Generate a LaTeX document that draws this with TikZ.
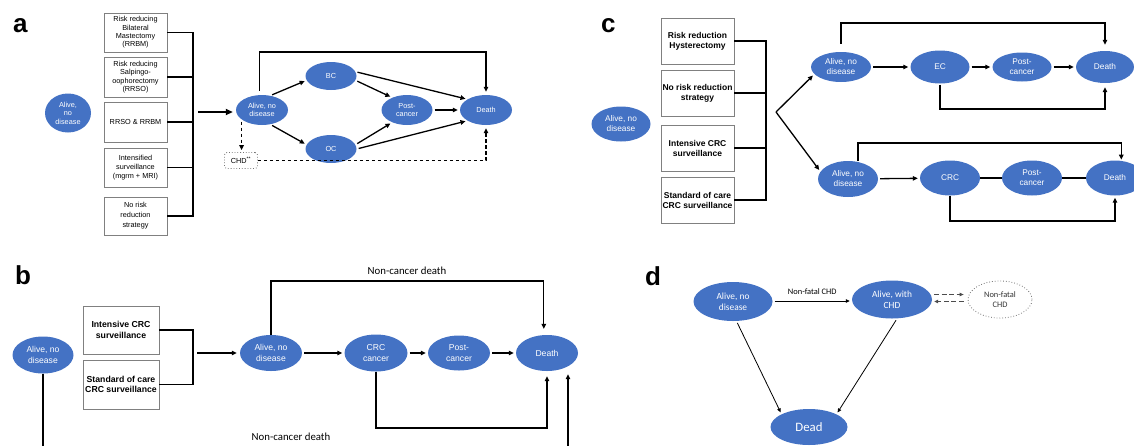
\documentclass[tikz,border=0pt]{standalone}
\usepackage{fontspec}
\setmainfont{Liberation Sans}
\newfontfamily\calfont{Carlito}
\usetikzlibrary{arrows.meta,shapes.geometric}

\definecolor{stateblue}{HTML}{4472C4}
\newcommand\fsa{\fontsize{7.3}{8.4}\selectfont}
\newcommand\fsb{\fontsize{8.6}{10.5}\selectfont}
\newcommand\fsbb{\fontsize{8.7}{10.3}\selectfont\bfseries}
\newcommand\fsc{\fontsize{8.3}{10}\selectfont}
\newcommand\fscb{\fontsize{8.5}{10}\selectfont\bfseries}
\newcommand\fsd{\calfont\fontsize{9.4}{11.3}\selectfont}
\newcommand\fsdn{\calfont\fontsize{8.4}{10}\selectfont}
\newcommand\fsnc{\calfont\fontsize{10.8}{12}\selectfont}
\newcommand\fsdead{\calfont\fontsize{12.8}{14}\selectfont}

\begin{document}
\begin{tikzpicture}[x=1pt,y=-1pt,
  state/.style={ellipse,fill=stateblue,text=white,inner sep=0pt,align=center},
  optbox/.style={draw=black!50,line width=0.7pt,inner sep=0pt,align=center},
  link/.style={line width=1.3pt},
  arr/.style={link,-{Triangle[length=5pt,width=4.5pt]},shorten <=2pt,shorten >=2pt},
  darr/.style={arr,dash pattern=on 3.5pt off 2.5pt},
  tarr/.style={line width=0.8pt,-{Triangle[length=4pt,width=3.5pt]},shorten <=2pt,shorten >=2pt},
  panel/.style={anchor=base west,inner sep=0pt,font=\fontsize{26}{26}\selectfont\bfseries}]
\useasboundingbox (0,0) rectangle (1134,445);

% 面板 a：乳腺/卵巢
\node[panel] (pa) at (13,32) {a};
\node[state,minimum width=46pt,minimum height=39pt,font=\fsa] (a0) at (68,113) {Alive,\\no\\disease};
\node[optbox,minimum width=63pt,minimum height=39pt,font=\fsa] (ab1) at (135.5,32.5) {Risk reducing\\Bilateral\\Mastectomy\\(RRBM)};
\node[optbox,minimum width=63pt,minimum height=40pt,font=\fsa] (ab2) at (135.5,77) {Risk reducing\\Salpingo-\\oophorectomy\\(RRSO)};
\node[optbox,minimum width=63pt,minimum height=40pt,font=\fsa] (ab3) at (135.5,122) {RRSO \& RRBM};
\node[optbox,minimum width=63pt,minimum height=39pt,font=\fontsize{7.3}{8.7}\selectfont] (ab4) at (135.5,167.5) {Intensified\\surveillance\\(mgrm + MRI)};
\node[optbox,minimum width=63pt,minimum height=38pt,font=\fontsize{7.3}{10}\selectfont] (ab5) at (135.5,216) {No risk\\reduction\\strategy};
\coordinate (aj) at (193,0);
\draw[link] (ab1.east) -| (aj |- ab5.east) -- (ab5.east);
\draw[link] (ab2.east) -- (ab2.east -| aj);
\draw[link] (ab3.east) -- (ab3.east -| aj);
\draw[link] (ab4.east) -- (ab4.east -| aj);

\node[state,minimum width=52pt,minimum height=30pt,font=\fsa] (a1) at (262,110) {Alive, no\\disease};
\node[state,minimum width=51pt,minimum height=28pt,font=\fsa] (aBC) at (331,76) {BC};
\node[state,minimum width=51pt,minimum height=28pt,font=\fsa] (aOC) at (331,149) {OC};
\node[state,minimum width=51pt,minimum height=30pt,font=\fsa] (aPost) at (407,110) {Post-\\cancer};
\node[state,minimum width=52pt,minimum height=30pt,font=\fsa] (aD) at (486,110) {Death};
\node[draw=black!55,line width=0.8pt,dotted,rounded corners=2.5pt,minimum width=33pt,minimum height=16pt,inner sep=0pt,font=\fsa] (aCHD) at (241,160.5) {CHD\textsuperscript{**}};

\coordinate (aIn) at (198,112);
\draw[link,line width=2pt,-{Triangle[length=7pt,width=6pt]},shorten >=3pt] (aIn) -- (aIn -| a1.west);
\draw[arr] (a1.60) -- (aBC.190);
\draw[arr] (a1.-60) -- (aOC.170);
\draw[arr] (aBC.-10) -- (aPost.140);
\draw[arr] (aBC.10) -- (aD.150);
\draw[arr] (aOC.10) -- (aPost.220);
\draw[arr] (aOC.east) -- (aD.210);
\draw[arr] (aPost) -- (aD);
\coordinate (aTop) at (0,52);
\draw[arr,shorten <=4pt,shorten >=3pt] (a1.100) -- (a1.100 |- aTop) -| (aD.north);
% CHD 虚线
\draw[darr] (a1.205) -- (a1.205 |- aCHD.north);
\draw[darr,shorten <=0pt,shorten >=3pt] (aCHD.east) -| (aD.south);

% 面板 c：子宫内膜癌 / 结直肠癌
\node[panel] (pc) at (601,32) {c};
\node[state,minimum width=59pt,minimum height=35pt,font=\fsc] (c0) at (621,124) {Alive, no\\disease};
\node[optbox,minimum width=73pt,minimum height=46pt,font=\fscb] (cb1) at (697.5,41) {Risk reduction\\Hysterectomy};
\node[optbox,minimum width=73pt,minimum height=46pt,font=\fscb] (cb2) at (697.5,93) {No risk reduction\\strategy};
\node[optbox,minimum width=73pt,minimum height=46pt,font=\fscb] (cb3) at (697.5,148) {Intensive CRC\\surveillance};
\node[optbox,minimum width=73pt,minimum height=46pt,font=\fscb] (cb4) at (697.5,200) {Standard of care\\CRC surveillance};
\coordinate (cj) at (766,0);
\draw[link] (cb1.east) -| (cj |- cb4.east) -- (cb4.east);
\draw[link] (cb2.east) -- (cb2.east -| cj);
\draw[link] (cb3.east) -- (cb3.east -| cj);

\node[state,minimum width=60pt,minimum height=30pt,font=\fsc] (c1) at (841,67) {Alive, no\\disease};
\node[state,minimum width=59pt,minimum height=33pt,font=\fsc] (cEC) at (940,67) {EC};
\node[state,minimum width=59pt,minimum height=29pt,font=\fsc] (cP1) at (1022,67) {Post-\\cancer};
\node[state,minimum width=58pt,minimum height=32pt,font=\fsc] (cD1) at (1105,67) {Death};
\node[state,minimum width=60pt,minimum height=36pt,font=\fsc] (c2) at (848,179) {Alive, no\\disease};
\node[state,minimum width=60pt,minimum height=35pt,font=\fsc] (cCRC) at (950,178) {CRC};
\node[state,minimum width=60pt,minimum height=35pt,font=\fsc] (cP2) at (1032,178) {Post-\\cancer};
\node[state,minimum width=58pt,minimum height=35pt,font=\fsc] (cD2) at (1115,178) {Death};

\coordinate (cAp) at (776,112);
\draw[arr,shorten <=0pt] (cAp) -- (c1.195);
\draw[arr,shorten <=0pt] (cAp) -- (c2.165);
\draw[arr] (c1) -- (cEC);
\draw[arr] (cEC) -- (cP1);
\draw[arr] (cP1) -- (cD1);
\coordinate (cTop1) at (0,23);
\draw[arr,shorten <=8pt,shorten >=6pt] (c1.north) -- (c1.north |- cTop1) -| (cD1.north);
\coordinate (cBot1) at (0,109);
\draw[arr,shorten <=1pt,shorten >=4pt] (cEC.south) -- (cEC.south |- cBot1) -| (cD1.south);
\draw[arr] (c2) -- (cCRC);
\draw[link] (cCRC) -- (cP2);
\draw[link] (cP2) -- (cD2);
\coordinate (cTop2) at (0,143);
\draw[arr,shorten <=1pt,shorten >=1pt] (c2.60) -- (c2.60 |- cTop2) -| (cD2.70);
\coordinate (cBot2) at (0,221);
\draw[arr,shorten <=0pt,shorten >=2pt] (cCRC.south) -- (cCRC.south |- cBot2) -| (cD2.south);

% 面板 b：结直肠癌监测
\node[panel] (pb) at (15,284) {b};
\node[state,minimum width=61pt,minimum height=37pt,font=\fsb] (b0) at (43,355) {Alive, no\\disease};
\node[optbox,minimum width=76pt,minimum height=48pt,font=\fsbb] (bb1) at (121,330) {Intensive CRC\\surveillance};
\node[optbox,minimum width=76pt,minimum height=49pt,font=\fsbb] (bb2) at (121,384.5) {Standard of care\\CRC surveillance};
\coordinate (bj) at (193,0);
\draw[link] (bb1.east) -| (bj |- bb2.east) -- (bb2.east);

\node[state,minimum width=62pt,minimum height=36pt,font=\fsb] (b1) at (271,353) {Alive, no\\disease};
\node[state,minimum width=63pt,minimum height=37pt,font=\fsb] (bCRC) at (376,353) {CRC\\cancer};
\node[state,minimum width=62pt,minimum height=35pt,font=\fsb] (bPost) at (459,353) {Post-\\cancer};
\node[state,minimum width=62pt,minimum height=36pt,font=\fsb] (bD) at (547,353) {Death};

\coordinate (bIn) at (197,353);
\draw[arr,shorten <=0pt,shorten >=3pt] (bIn) -- (bIn -| b1.west);
\draw[arr] (b1) -- (bCRC);
\draw[arr] (bCRC) -- (bPost);
\draw[arr] (bPost) -- (bD);
\coordinate (bTop) at (0,281);
\draw[arr,shorten <=0pt,shorten >=6pt] (b1.north) -- (b1.north |- bTop) -| (bD.100);
\node[font=\fsnc] (bL1) at (407,271) {Non-cancer death};
\coordinate (bBot) at (0,428);
\draw[arr,shorten <=0pt,shorten >=5pt] (bCRC.south) -- (bCRC.south |- bBot) -| (bD.south);
\coordinate (bEnd) at (0,450);
\draw[link] (b0.south) -- (b0.south |- bEnd);
\coordinate (bR) at (568,450);
\draw[arr,shorten <=0pt,shorten >=3pt] (bR) -- (bR |- bD.south);
\node[font=\fsnc] (bL2) at (291,437) {Non-cancer death};

% 面板 d：冠心病
\node[panel] (pd) at (645,285) {d};
\node[state,minimum width=79pt,minimum height=39pt,font=\fsd] (dA) at (733,301.5) {Alive, no\\disease};
\node[state,minimum width=80pt,minimum height=38pt,font=\fsd] (dB) at (892,299.5) {Alive, with\\CHD};
\node[ellipse,draw=black!55,line width=0.8pt,dotted,text=black!80,minimum width=64pt,minimum height=37pt,inner sep=0pt,align=center,font=\fsdn] (dN) at (1000,299.5) {Non-fatal\\CHD};
\node[state,minimum width=77pt,minimum height=36pt,font=\fsdead] (dX) at (809,427) {Dead};

\draw[tarr] (dA.east |- 0,301) -- node[above=3pt,font=\fsdn] (dL) {Non-fatal CHD} (dB.west |- 0,301);
\draw[tarr,black!70,dash pattern=on 5pt off 2.5pt,shorten >=4pt] ([yshift=5pt]dB.east) -- ([yshift=5pt]dN.west);
\draw[tarr,black!70,dash pattern=on 5pt off 2.5pt,shorten <=4pt] ([yshift=-2pt]dN.west) -- ([yshift=-2pt]dB.east);
\draw[tarr] (dA.-80) -- (dX.155);
\draw[tarr] (dB.-75) -- (dX.25);
\end{tikzpicture}
\end{document}
